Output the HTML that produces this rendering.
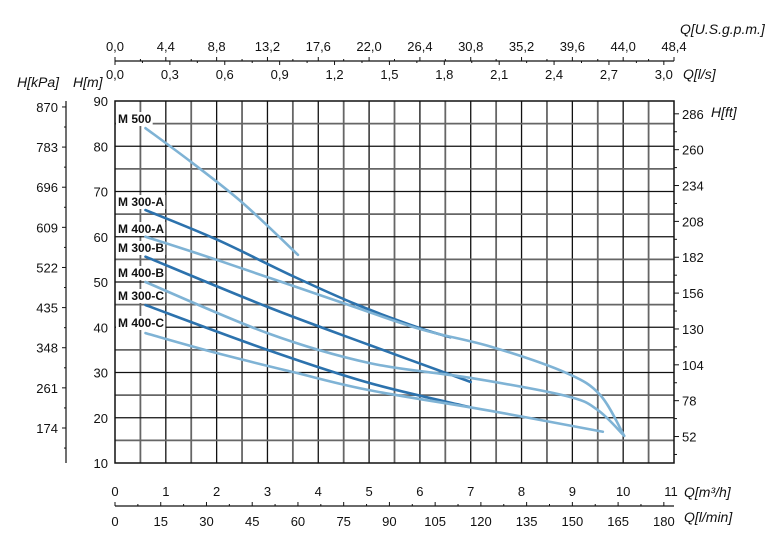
<!DOCTYPE html>
<html><head><meta charset="utf-8"><style>
body{margin:0;background:#fff;width:784px;height:549px;overflow:hidden}
svg{display:block;font-family:"Liberation Sans",sans-serif}
</style></head><body>
<svg id="chart" width="784" height="549" viewBox="0 0 784 549"></svg>
<script>
const flowTicksM3h=[0,1,2,3,4,5,6,7,8,9,10,11];
const flowTicksLmin=[0,15,30,45,60,75,90,105,120,135,150,165,180];
const flowTicksLs=["0,0","0,3","0,6","0,9","1,2","1,5","1,8","2,1","2,4","2,7","3,0"];
const flowTicksGpm=["0,0","4,4","8,8","13,2","17,6","22,0","26,4","30,8","35,2","39,6","44,0","48,4"];
const headTicksM=[10,20,30,40,50,60,70,80,90];
const headTicksKpa=[174,261,348,435,522,609,696,783,870];
const headTicksFt=[52,78,104,130,156,182,208,234,260,286];
const seriesNames=["M 500","M 300-A","M 400-A","M 300-B","M 400-B","M 300-C","M 400-C"];
const m500Q=[0.6,1.5,2.5,3.6];
const m500H=[84,76.5,67.6,56];
const m300aQ=[0.6,2.0,3.5,4.76,6.0,6.6];
const m300aH=[65.9,59.4,51.3,45,39.8,37.8];
const m400aQ=[0.6,2.0,4.5,6.0,7.4,8.88,9.55,10.02];
const m400aH=[60,54.9,45.3,39.6,35.7,29.9,25,16];
const m300bQ=[0.6,3.0,5.0,7.0];
const m300bH=[55.6,44.5,36.1,27.9];
const m400bQ=[0.6,3.0,5.0,7.0,8.88,9.5,10.02];
const m400bH=[50,38.7,32.1,28.8,24.8,21.7,16];
const m300cQ=[0.6,3.0,5.0,7.0];
const m300cH=[44.9,35,27.7,22.3];
const m400cQ=[0.6,2.0,3.5,5.0,7.4,9.6];
const m400cH=[38.7,34.3,30.1,26.1,21.5,16.9];

const NS="http://www.w3.org/2000/svg";
const svg=document.getElementById('chart');
const X0=115,X1=674,Y0=101,Y1=463;
const xs=q=>X0+q*(X1-X0)/11;
const ys=h=>Y1-(h-10)*(Y1-Y0)/80;
function el(t,a,parent){const e=document.createElementNS(NS,t);for(const k in a)e.setAttribute(k,a[k]);(parent||svg).appendChild(e);return e;}
function txt(x,y,s,anchor,size,extra){const t=el('text',Object.assign({x:x,y:y,'font-size':size||12,'text-anchor':anchor||'middle',fill:'#111'},extra||{}));t.textContent=s;return t;}

const grid=el('g',{});


for(let i=1;i<22;i++){const q=i*0.5;const major=i%2===0;
 el('line',{x1:xs(q),x2:xs(q),y1:Y0,y2:Y1,stroke:major?'#111':'#666','stroke-width':major?1.3:1.8},grid);}
for(let h=15;h<90;h+=5){const major=h%10===0;
 el('line',{x1:X0,x2:X1,y1:ys(h),y2:ys(h),stroke:major?'#111':'#666','stroke-width':major?1.3:1.8},grid);}
const frame=el('rect',{x:X0,y:Y0,width:X1-X0,height:Y1-Y0,fill:'none',stroke:'#111','stroke-width':1.5});



headTicksM.forEach(h=>{const t=txt(108,ys(h)+5,String(h),'end',13);
 
 });
el('line',{x1:66,x2:66,y1:Y0,y2:Y1,stroke:'#111','stroke-width':1.2});
headTicksKpa.forEach((k,i)=>{const y=ys(k/9.81);
 el('line',{x1:62,x2:66,y1:y,y2:y,stroke:'#111'});
 const ym=ys((k+43.5)/9.81);if(ym>Y0+2)el('line',{x1:64,x2:66,y1:ym,y2:ym,stroke:'#111'});
 const t=txt(58,y+5,String(k),'end',13);
 
 });
{const ym=ys((174-43.5)/9.81);el('line',{x1:64,x2:66,y1:ym,y2:ym,stroke:'#111'});}
headTicksFt.forEach(f=>{const y=ys(f/3.281);
 el('line',{x1:X1,x2:X1+5,y1:y,y2:y,stroke:'#111'});
 const ym=ys((f-13)/3.281);el('line',{x1:X1,x2:X1+3,y1:ym,y2:ym,stroke:'#111'});
 const t=txt(682,y+5,String(f),'start',13);
 
 });
const at=[[17,87,'H[kPa]','start'],[73,87,'H[m]','start'],[711,117,'H[ft]','start'],[680,34,'Q[U.S.g.p.m.]','start'],[683,79,'Q[l/s]','start'],[684,497,'Q[m³/h]','start'],[684,522,'Q[l/min]','start']];
const atNames=['kpa-axis-title','m-axis-title','ft-axis-title','gpm-axis-title','ls-axis-title','m3h-axis-title','lmin-axis-title'];
at.forEach((a,i)=>{const t=txt(a[0],a[1],a[2],a[3],14,{'font-style':'italic'});
 
 });

el('line',{x1:X0,x2:X1,y1:61,y2:61,stroke:'#111','stroke-width':1.3});
flowTicksGpm.forEach((s,i)=>{const x=xs(i);
 el('line',{x1:x,x2:x,y1:57,y2:61,stroke:'#111'});
 if(i<11){const xm=xs(i+0.5);el('line',{x1:xm,x2:xm,y1:59,y2:61,stroke:'#111'});}
 const t=txt(x,51,s,'middle',13);
 
 });
flowTicksLs.forEach((s,i)=>{const x=xs(i*1.08);
 el('line',{x1:x,x2:x,y1:61,y2:65,stroke:'#111'});
 if(i<10){const xm=xs(i*1.08+0.54);el('line',{x1:xm,x2:xm,y1:61,y2:63,stroke:'#111'});}
 const t=txt(x,79,s,'middle',13);
 
 });
flowTicksM3h.forEach(q=>{const t=txt(xs(q)-(q===11?3:0),496,String(q),'middle',13);
 
 });
el('line',{x1:X0,x2:X1,y1:506,y2:506,stroke:'#111','stroke-width':1.3});
flowTicksLmin.forEach((l,i)=>{const x=xs(l*0.06);
 el('line',{x1:x,x2:x,y1:502,y2:506,stroke:'#111'});
 if(i<12){const xm=xs((l+7.5)*0.06);el('line',{x1:xm,x2:xm,y1:504,y2:506,stroke:'#111'});}
 const t=txt(x,526,String(l),'middle',13);
 
 });

const labelY=[123,206,233,252,277,300,327];
seriesNames.forEach((n,i)=>{
 const r=el('rect',{x:116,y:labelY[i]-11,width:10,height:14,fill:'#fff'});
 const t=txt(118,labelY[i],n,'start',12,{'font-weight':'bold'});
 
 
 r.setAttribute('width',t.getBBox().width+3);});

const DARK='#2c72ad',LIGHT='#7fb3d5';
const curves=[[m500Q,m500H,LIGHT,'curve-m500'],[m300aQ,m300aH,DARK,'curve-m300-a'],[m400aQ,m400aH,LIGHT,'curve-m400-a'],[m300bQ,m300bH,DARK,'curve-m300-b'],[m400bQ,m400bH,LIGHT,'curve-m400-b'],[m300cQ,m300cH,DARK,'curve-m300-c'],[m400cQ,m400cH,LIGHT,'curve-m400-c']];
function smooth(pts){let d='M'+pts[0][0]+','+pts[0][1];
 for(let i=0;i<pts.length-1;i++){const p0=pts[i-1]||pts[i],p1=pts[i],p2=pts[i+1],p3=pts[i+2]||p2;
  const c1=[p1[0]+(p2[0]-p0[0])/6,p1[1]+(p2[1]-p0[1])/6],c2=[p2[0]-(p3[0]-p1[0])/6,p2[1]-(p3[1]-p1[1])/6];
  d+=' C'+c1[0]+','+c1[1]+' '+c2[0]+','+c2[1]+' '+p2[0]+','+p2[1];}
 return d;}
curves.forEach(c=>{const pts=c[0].map((q,i)=>[xs(q),ys(c[1][i])]);
 const p=el('path',{d:smooth(pts),fill:'none',stroke:c[2],'stroke-width':2.6,'stroke-linecap':'round'});
 
 });
</script>
</body></html>
